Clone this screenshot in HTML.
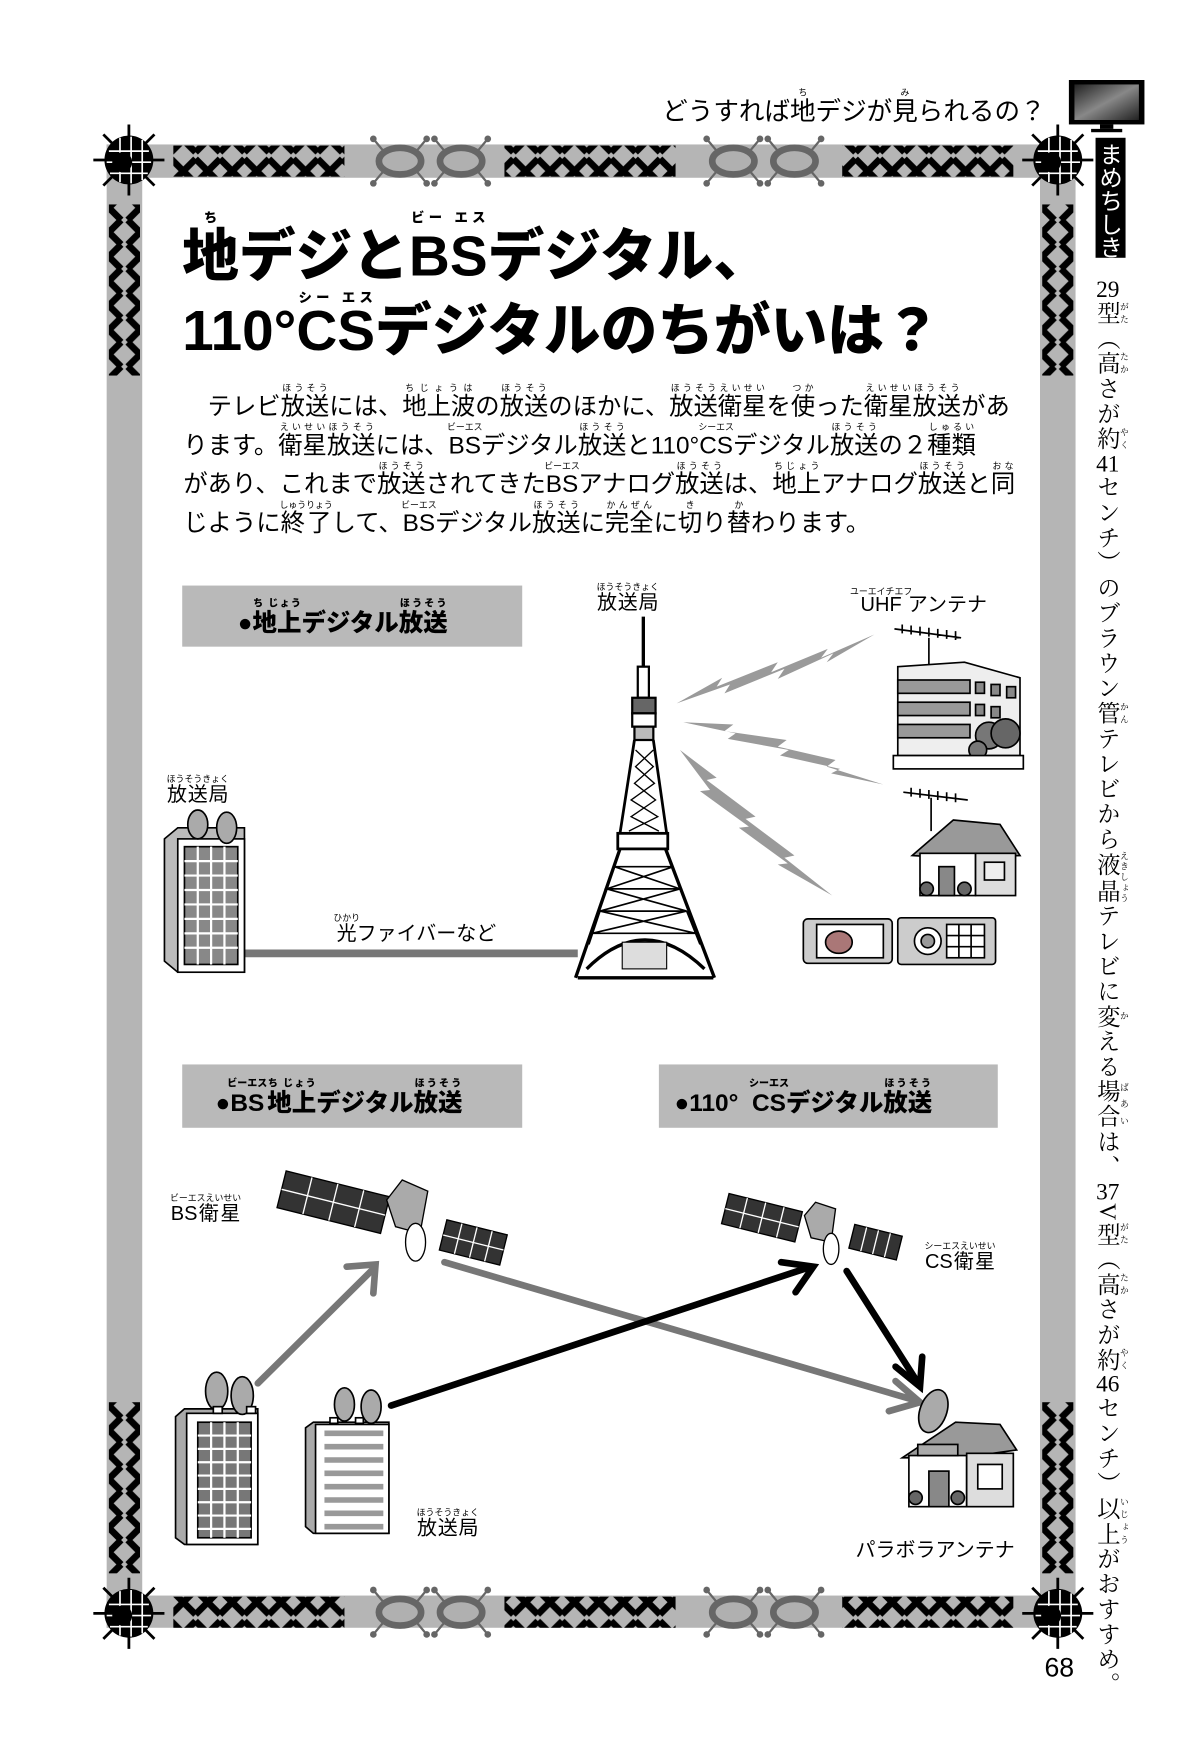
<!DOCTYPE html>
<html><head><meta charset="utf-8"><style>
html,body{margin:0;padding:0;background:#fff;}
#root{position:relative;width:1080px;height:1574px;transform:scale(1.11111);transform-origin:0 0;overflow:hidden;font-family:"Liberation Sans","Noto Sans CJK JP",sans-serif;color:#000;}
.abs{position:absolute;white-space:nowrap;}
.title{font-weight:900;font-size:51px;letter-spacing:0px;line-height:1;}
.para{font-size:21.9px;line-height:1;}
rt{font-size:8px;}
.lbl{font-size:18px;}
.sec{position:absolute;background:#b9b9b9;font-weight:900;font-size:22px;line-height:1;}
.vert{position:absolute;left:986px;top:250px;writing-mode:vertical-rl;font-family:"Liberation Serif","Noto Serif CJK JP",serif;font-size:21px;line-height:1;letter-spacing:1.6px;}
.tcy{text-combine-upright:all;}
</style></head><body><div id="root">
<svg width="1080" height="1574" viewBox="0 0 1080 1574" style="position:absolute;left:0;top:0">
<defs>
<pattern id="xh" x="0" y="0" width="22" height="28" patternUnits="userSpaceOnUse">
<path d="M0 3 L22 25 M0 25 L22 3" stroke="#000" stroke-width="6" fill="none"/>
</pattern>
<pattern id="xv" x="0" y="0" width="28" height="22" patternUnits="userSpaceOnUse">
<path d="M3 0 L25 22 M25 0 L3 22" stroke="#000" stroke-width="6" fill="none"/>
</pattern>
<linearGradient id="scr" x1="0" y1="0" x2="1" y2="1"><stop offset="0" stop-color="#222"/><stop offset="0.5" stop-color="#888"/><stop offset="1" stop-color="#222"/></linearGradient>
<g id="orn">
<ellipse cx="0" cy="0" rx="19" ry="12" fill="#b0b0b0" stroke="#666" stroke-width="6"/>
<path d="M-14-8 L-24-20 M14-8 L24-20 M-14 8 L-24 20 M14 8 L24 20" stroke="#666" stroke-width="2"/>
<circle cx="-24" cy="-20" r="3" fill="#666"/><circle cx="24" cy="-20" r="3" fill="#666"/>
<circle cx="-24" cy="20" r="3" fill="#666"/><circle cx="24" cy="20" r="3" fill="#666"/>
</g>
<g id="emb">
<path d="M0-32V32M-32 0H32M-23-23L23 23M23-23L-23 23" stroke="#000" stroke-width="2.5"/>
<circle r="22" fill="#000"/>
<path d="M-18-8H18M-20 2H20M-17 12H17M-8-20V20M2-21V21M12-18V18" stroke="#fff" stroke-width="1.5"/>
<circle cx="-6" cy="2" r="9" fill="#000"/>
</g>
</defs>
<rect x="96" y="130" width="872" height="30" fill="#b5b5b5"/>
<rect x="96" y="1436" width="872" height="29" fill="#b5b5b5"/>
<rect x="96" y="130" width="32" height="1335" fill="#b5b5b5"/>
<rect x="936" y="130" width="32" height="1335" fill="#b5b5b5"/>
<rect x="156" y="131" width="154" height="28" fill="url(#xh)"/>
<rect x="454" y="131" width="154" height="28" fill="url(#xh)"/>
<rect x="758" y="131" width="154" height="28" fill="url(#xh)"/>
<rect x="156" y="1437" width="154" height="28" fill="url(#xh)"/>
<rect x="454" y="1437" width="154" height="28" fill="url(#xh)"/>
<rect x="758" y="1437" width="154" height="28" fill="url(#xh)"/>
<rect x="98" y="184" width="28" height="154" fill="url(#xv)"/>
<rect x="938" y="184" width="28" height="154" fill="url(#xv)"/>
<rect x="98" y="1262" width="28" height="154" fill="url(#xv)"/>
<rect x="938" y="1262" width="28" height="154" fill="url(#xv)"/>
<use href="#orn" x="360" y="145"/><use href="#orn" x="415" y="145"/>
<use href="#orn" x="660" y="145"/><use href="#orn" x="715" y="145"/>
<use href="#orn" x="360" y="1451"/><use href="#orn" x="415" y="1451"/>
<use href="#orn" x="660" y="1451"/><use href="#orn" x="715" y="1451"/>
<use href="#emb" x="116" y="144"/><use href="#emb" x="952" y="144"/>
<use href="#emb" x="116" y="1452"/><use href="#emb" x="952" y="1452"/>
<rect x="962" y="72" width="68" height="40" fill="#000"/>
<rect x="967" y="76" width="58" height="32" fill="url(#scr)"/>
<rect x="990" y="112" width="12" height="4" fill="#000"/><rect x="982" y="116" width="28" height="3" fill="#000"/>
<rect x="986" y="124" width="27" height="108" fill="#000"/>
<g fill="#9a9a9a">
<polygon points="609,633 650,610 645,618 700,596 694,605 745,584 739,592 787,571 744,596 750,588 700,611 706,602 652,624 657,616"/>
<polygon points="615,650 660,652 652,658 708,666 700,672 752,684 744,690 795,706 748,696 756,692 702,680 710,675 655,665 662,660"/>
<polygon points="612,675 645,700 636,702 680,735 671,737 715,770 706,772 749,806 700,778 709,777 665,745 674,744 630,712 639,711"/>
</g>
<g stroke="#000" fill="none">
<line x1="579" y1="555" x2="579" y2="620" stroke-width="3"/>
<rect x="574" y="600" width="10" height="28" fill="#fff" stroke-width="2"/>
<rect x="569" y="628" width="21" height="14" fill="#666" stroke-width="2"/>
<rect x="569" y="642" width="21" height="12" fill="#fff" stroke-width="2"/>
<rect x="571" y="654" width="17" height="12" fill="#bbb" stroke-width="2"/>
<path d="M571 666 L558 750 M588 666 L600 750" stroke-width="2.5"/>
<path d="M572 675 L588 690 L571 705 L590 720 L568 735 L593 748 M588 675 L572 690 L589 705 L568 720 L592 735 L566 748" stroke-width="1.2"/>
<rect x="556" y="750" width="45" height="14" fill="#fff" stroke-width="2.5"/>
<path d="M558 764 L518 880 M599 764 L643 880 M520 880 H642" stroke-width="3"/>
<path d="M553 780 L606 780 M546 800 L612 800 M540 820 L618 820 M533 840 L626 840 M553 780 L612 800 L540 820 L626 840 M606 780 L546 800 L618 820 L533 840 M540 820 L530 850 M618 820 L630 850" stroke-width="1.5"/>
<path d="M528 872 Q580 820 634 872" stroke-width="3"/>
<rect x="560" y="848" width="40" height="24" fill="#ddd" stroke-width="1"/>
</g>
<g stroke="#000" fill="#fff" stroke-width="1.5">
<path d="M805 566 L865 574 M812 562 v8 M820 563 v8 M828 564 v8 M836 565 v8 M844 566 v8 M852 567 v8 M860 568 v8" fill="none"/>
<line x1="836" y1="574" x2="836" y2="598"/>
<polygon points="808,600 868,596 918,610 918,680 808,680" fill="#eee"/>
<rect x="808" y="612" width="65" height="12" fill="#999"/><rect x="808" y="632" width="65" height="12" fill="#999"/>
<rect x="808" y="652" width="65" height="12" fill="#999"/>
<rect x="878" y="614" width="8" height="10" fill="#888"/><rect x="892" y="616" width="8" height="10" fill="#888"/><rect x="906" y="618" width="8" height="10" fill="#888"/>
<rect x="878" y="634" width="8" height="10" fill="#888"/><rect x="892" y="636" width="8" height="10" fill="#888"/>
<circle cx="890" cy="662" r="12" fill="#777"/><circle cx="905" cy="660" r="13" fill="#666"/><circle cx="880" cy="675" r="8" fill="#777"/>
<rect x="804" y="680" width="117" height="12"/>
</g>
<g stroke="#000" fill="#fff" stroke-width="1.5">
<path d="M813 713 L871 720 M820 709 v8 M828 710 v8 M836 711 v8 M844 712 v8 M852 713 v8 M860 714 v8" fill="none"/>
<line x1="838" y1="718" x2="838" y2="748"/>
<polygon points="821,770 858,738 900,742 918,770 855,772" fill="#999"/>
<rect x="828" y="768" width="50" height="38"/>
<rect x="878" y="768" width="36" height="38" fill="#ddd"/>
<rect x="845" y="780" width="14" height="26" fill="#888"/>
<rect x="886" y="776" width="18" height="16" fill="#eee"/>
<circle cx="834" cy="800" r="6" fill="#666"/><circle cx="868" cy="800" r="6" fill="#666"/>
</g>
<g stroke="#000" stroke-width="1.5">
<rect x="723" y="827" width="80" height="40" rx="4" fill="#ccc"/>
<rect x="735" y="832" width="60" height="30" fill="#fff"/>
<ellipse cx="755" cy="848" rx="12" ry="10" fill="#a77"/>
<rect x="808" y="826" width="88" height="42" rx="3" fill="#ccc"/>
<circle cx="835" cy="847" r="12" fill="#fff"/><circle cx="835" cy="847" r="6" fill="#999"/>
<rect x="852" y="832" width="34" height="30" fill="#fff"/>
<path d="M852 842 H886 M852 852 H886 M863 832 V862 M874 832 V862" fill="none"/>
</g>
<line x1="220" y1="858" x2="520" y2="858" stroke="#777" stroke-width="7"/>
<g stroke="#000" stroke-width="1.5">
<polygon points="148,755 160,745 220,745 220,875 160,875 148,865" fill="#bbb"/>
<rect x="160" y="755" width="60" height="120" fill="#fff"/>
<rect x="166" y="762" width="48" height="106" fill="#888"/>
<path d="M166 775 H214 M166 788 H214 M166 801 H214 M166 814 H214 M166 827 H214 M166 840 H214 M166 853 H214 M178 762 V868 M190 762 V868 M202 762 V868" stroke="#fff" stroke-width="2"/>
<ellipse cx="178" cy="742" rx="9" ry="13" fill="#aaa"/><ellipse cx="204" cy="745" rx="9" ry="14" fill="#aaa"/>
</g>
<g stroke-linecap="round">
<line x1="232" y1="1245" x2="336" y2="1142" stroke="#777" stroke-width="6"/>
<polyline points="312,1140 338,1138 336,1164" fill="none" stroke="#777" stroke-width="6"/>
<line x1="400" y1="1136" x2="826" y2="1261" stroke="#777" stroke-width="6"/>
<polyline points="806,1243 828,1262 800,1270" fill="none" stroke="#777" stroke-width="6"/>
<line x1="352" y1="1265" x2="730" y2="1140" stroke="#000" stroke-width="6"/>
<polyline points="703,1136 732,1140 716,1163" fill="none" stroke="#000" stroke-width="6"/>
<line x1="762" y1="1144" x2="827" y2="1246" stroke="#000" stroke-width="6"/>
<polyline points="806,1230 828,1248 830,1221" fill="none" stroke="#000" stroke-width="6"/>
</g>
<g stroke="#000" stroke-width="1.2">
<g transform="rotate(14 300 1082)"><rect x="252" y="1065" width="96" height="34" fill="#333"/><path d="M276 1065 V1099 M300 1065 V1099 M324 1065 V1099 M252 1082 H348" stroke="#fff"/></g>
<g transform="rotate(14 425 1118)"><rect x="398" y="1104" width="56" height="28" fill="#333"/><path d="M412 1104 V1132 M426 1104 V1132 M440 1104 V1132 M398 1118 H454" stroke="#fff"/></g>
<polygon points="348,1080 362,1062 385,1072 378,1110 356,1104" fill="#aaa"/>
<ellipse cx="374" cy="1118" rx="9" ry="17" fill="#fff"/>
</g>
<g stroke="#000" stroke-width="1.2">
<g transform="rotate(14 686 1095)"><rect x="652" y="1082" width="68" height="28" fill="#333"/><path d="M669 1082 V1110 M686 1082 V1110 M703 1082 V1110 M652 1096 H720" stroke="#fff"/></g>
<g transform="rotate(14 788 1118)"><rect x="766" y="1107" width="44" height="22" fill="#333"/><path d="M777 1107 V1129 M788 1107 V1129 M799 1107 V1129" stroke="#fff"/></g>
<polygon points="724,1094 734,1082 752,1088 748,1118 730,1114" fill="#aaa"/>
<ellipse cx="748" cy="1124" rx="7" ry="14" fill="#fff"/>
</g>
<g stroke="#000" stroke-width="1.5">
<polygon points="158,1275 166,1268 232,1268 232,1390 166,1390 158,1384" fill="#aaa"/>
<rect x="168" y="1272" width="64" height="118" fill="#fff"/>
<rect x="178" y="1280" width="48" height="104" fill="#777"/>
<path d="M178 1292 H226 M178 1304 H226 M178 1316 H226 M178 1328 H226 M178 1340 H226 M178 1352 H226 M178 1364 H226 M178 1376 H226 M190 1280 V1384 M202 1280 V1384 M214 1280 V1384" stroke="#fff" stroke-width="2"/>
<ellipse cx="195" cy="1252" rx="10" ry="17" fill="#aaa"/><ellipse cx="218" cy="1256" rx="10" ry="17" fill="#aaa"/>
<rect x="192" y="1266" width="8" height="6" fill="#fff"/><rect x="222" y="1266" width="8" height="6" fill="#fff"/>
<polygon points="275,1285 282,1280 350,1280 350,1380 282,1380 275,1374" fill="#aaa"/>
<rect x="284" y="1282" width="66" height="98" fill="#fff"/>
<path d="M292 1290 H345 M292 1302 H345 M292 1314 H345 M292 1326 H345 M292 1338 H345 M292 1350 H345 M292 1362 H345 M292 1374 H345" stroke="#999" stroke-width="5"/>
<ellipse cx="310" cy="1264" rx="9" ry="15" fill="#aaa"/><ellipse cx="334" cy="1266" rx="9" ry="15" fill="#aaa"/>
<rect x="297" y="1276" width="7" height="5" fill="#fff"/><rect x="320" y="1276" width="7" height="5" fill="#fff"/>
</g>
<g stroke="#000" stroke-width="1.5">
<ellipse cx="840" cy="1270" rx="12" ry="20" fill="#aaa" transform="rotate(20 840 1270)"/>
<polygon points="812,1312 860,1280 900,1282 915,1305 865,1312" fill="#999"/>
<rect x="818" y="1310" width="52" height="46" fill="#fff"/>
<rect x="870" y="1308" width="42" height="48" fill="#ddd"/>
<rect x="836" y="1324" width="18" height="32" fill="#888"/>
<rect x="880" y="1318" width="22" height="22" fill="#fff"/>
<rect x="826" y="1300" width="36" height="10" fill="#aaa"/>
<circle cx="824" cy="1348" r="6" fill="#666"/><circle cx="862" cy="1348" r="6" fill="#666"/>
</g>
</svg>

<div class="abs" style="left:596px;top:79px;font-size:23px;">どうすれば<ruby>地<rt>ち</rt></ruby>デジが<ruby>見<rt>み</rt></ruby>られるの？</div>
<div class="abs" style="left:988px;top:128px;writing-mode:vertical-rl;color:#fff;font-size:21px;line-height:1;">まめちしき</div>

<div class="abs title" style="left:164px;top:189px;"><ruby>地<rt style="font-size:12px">ち</rt></ruby>デジと<ruby>BS<rt style="font-size:12px">ビー エス</rt></ruby>デジタル、</div>
<div class="abs title" style="left:164px;top:261px;">110°<ruby>CS<rt style="font-size:12px">シー エス</rt></ruby>デジタルのちがいは？</div>

<div class="abs para" style="left:165px;top:345px;">　テレビ<ruby>放送<rt>ほうそう</rt></ruby>には、<ruby>地上波<rt>ちじょうは</rt></ruby>の<ruby>放送<rt>ほうそう</rt></ruby>のほかに、<ruby>放送衛星<rt>ほうそうえいせい</rt></ruby>を<ruby>使<rt>つか</rt></ruby>った<ruby>衛星放送<rt>えいせいほうそう</rt></ruby>があ</div>
<div class="abs para" style="left:165px;top:380px;">ります。<ruby>衛星放送<rt>えいせいほうそう</rt></ruby>には、<ruby>BS<rt>ビーエス</rt></ruby>デジタル<ruby>放送<rt>ほうそう</rt></ruby>と110°<ruby>CS<rt>シーエス</rt></ruby>デジタル<ruby>放送<rt>ほうそう</rt></ruby>の２<ruby>種類<rt>しゅるい</rt></ruby></div>
<div class="abs para" style="left:165px;top:415px;">があり、これまで<ruby>放送<rt>ほうそう</rt></ruby>されてきた<ruby>BS<rt>ビーエス</rt></ruby>アナログ<ruby>放送<rt>ほうそう</rt></ruby>は、<ruby>地上<rt>ちじょう</rt></ruby>アナログ<ruby>放送<rt>ほうそう</rt></ruby>と<ruby>同<rt>おな</rt></ruby></div>
<div class="abs para" style="left:165px;top:450px;">じように<ruby>終了<rt>しゅうりょう</rt></ruby>して、<ruby>BS<rt>ビーエス</rt></ruby>デジタル<ruby>放送<rt>ほうそう</rt></ruby>に<ruby>完全<rt>かんぜん</rt></ruby>に<ruby>切<rt>き</rt></ruby>り<ruby>替<rt>か</rt></ruby>わります。</div>

<div class="sec" style="left:164px;top:527px;width:306px;height:55px;"><div style="position:absolute;left:50px;top:11px;">●<ruby>地上<rt style="font-size:9px">ち じょう</rt></ruby>デジタル<ruby>放送<rt style="font-size:9px">ほうそう</rt></ruby></div></div>
<div class="sec" style="left:164px;top:958px;width:306px;height:57px;"><div style="position:absolute;left:30px;top:12px;">●<ruby>BS<rt style="font-size:9px">ビーエス</rt></ruby><ruby>地上<rt style="font-size:9px">ち じょう</rt></ruby>デジタル<ruby>放送<rt style="font-size:9px">ほうそう</rt></ruby></div></div>
<div class="sec" style="left:593px;top:958px;width:305px;height:57px;"><div style="position:absolute;left:14px;top:12px;">●110°&nbsp;&nbsp;<ruby>CS<rt style="font-size:9px">シーエス</rt></ruby>デジタル<ruby>放送<rt style="font-size:9px">ほうそう</rt></ruby></div></div>

<div class="abs lbl" style="left:537px;top:524px;"><ruby>放送局<rt>ほうそうきょく</rt></ruby></div>
<div class="abs lbl" style="left:765px;top:528px;"><ruby>UHF<rt>ユーエイチエフ</rt></ruby>アンテナ</div>
<div class="abs lbl" style="left:150px;top:697px;"><ruby>放送局<rt>ほうそうきょく</rt></ruby></div>
<div class="abs lbl" style="left:300px;top:822px;"><ruby>光<rt>ひかり</rt></ruby>ファイバーなど</div>
<div class="abs lbl" style="left:153px;top:1074px;"><ruby>BS衛星<rt>ビーエスえいせい</rt></ruby></div>
<div class="abs lbl" style="left:832px;top:1117px;"><ruby>CS衛星<rt>シーエスえいせい</rt></ruby></div>
<div class="abs lbl" style="left:375px;top:1357px;"><ruby>放送局<rt>ほうそうきょく</rt></ruby></div>
<div class="abs lbl" style="left:770px;top:1381px;">パラボラアンテナ</div>

<div class="vert"><span class="tcy">29</span><ruby>型<rt>がた</rt></ruby>（<ruby>高<rt>たか</rt></ruby>さが<ruby>約<rt>やく</rt></ruby><span class="tcy">41</span>センチ）のブラウン<ruby>管<rt>かん</rt></ruby>テレビから<ruby>液晶<rt>えきしょう</rt></ruby>テレビに<ruby>変<rt>か</rt></ruby>える<ruby>場合<rt>ばあい</rt></ruby>は、<span class="tcy">37</span>V<ruby>型<rt>がた</rt></ruby>（<ruby>高<rt>たか</rt></ruby>さが<ruby>約<rt>やく</rt></ruby><span class="tcy">46</span>センチ）<ruby>以上<rt>いじょう</rt></ruby>がおすすめ。</div>
<div class="abs" style="left:940px;top:1488px;font-size:24px;">68</div>
</div></body></html>
